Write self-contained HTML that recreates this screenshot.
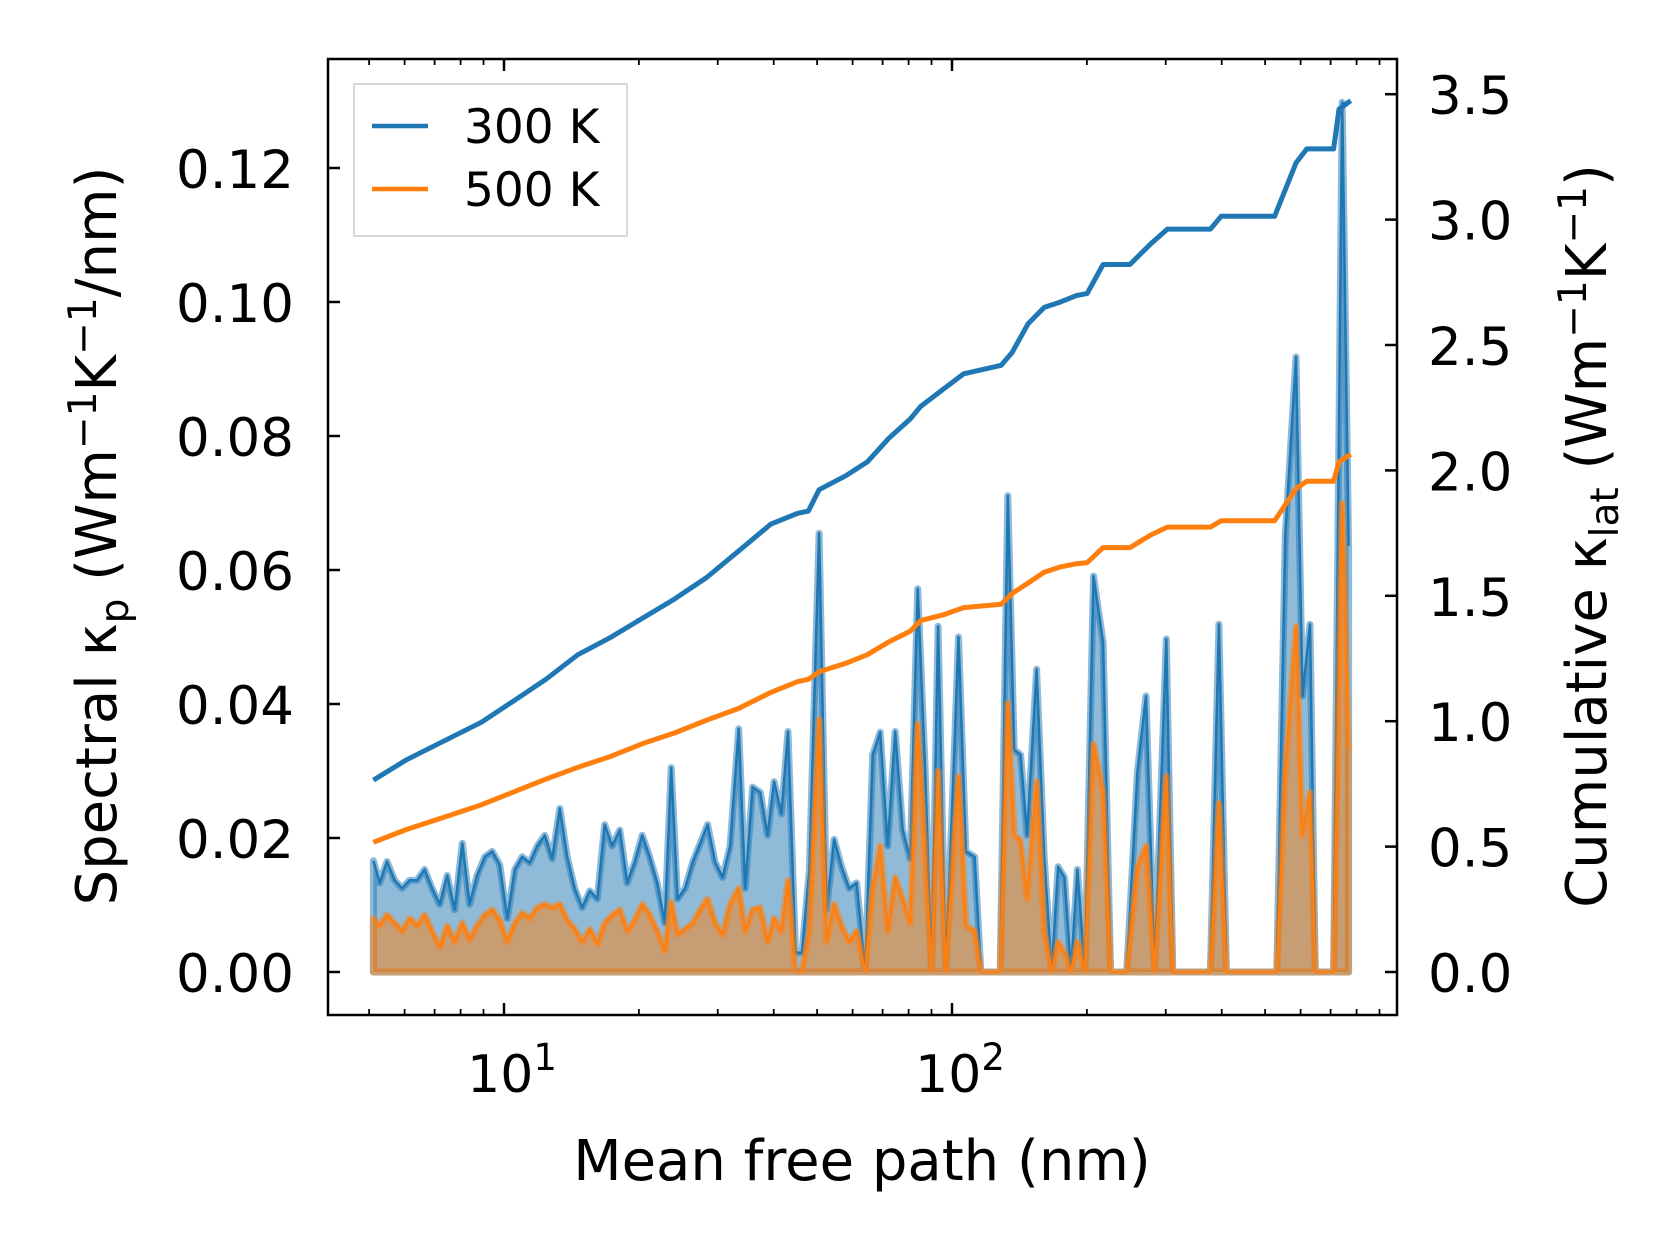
<!DOCTYPE html>
<html><head><meta charset="utf-8">
<style>
html,body{margin:0;padding:0;background:#fff;}
svg{display:block;font-family:"DejaVu Sans","Liberation Sans",sans-serif;}
</style></head>
<body>
<svg id="chart" width="1679" height="1254" viewBox="0 0 1679 1254" xmlns="http://www.w3.org/2000/svg">
<rect x="0" y="0" width="1679" height="1254" fill="#fff"/>
<g id="marks"></g>
<g id="axes"></g>
<g>
  <rect x="354" y="84" width="273" height="152" fill="#fff" fill-opacity="0.8" stroke="#ccc" stroke-width="1.5"/>
  <line x1="372" y1="126" x2="428" y2="126" stroke="#1f77b4" stroke-width="4.5"/>
  <text x="464" y="143" font-size="47">300 K</text>
  <line x1="372" y1="189" x2="428" y2="189" stroke="#ff7f0e" stroke-width="4.5"/>
  <text x="464" y="206" font-size="47">500 K</text>
</g>
<text x="862" y="1180" font-size="56" text-anchor="middle">Mean free path (nm)</text>
<text transform="translate(116,536) rotate(-90)" font-size="56" text-anchor="middle">Spectral κ<tspan font-size="39" dy="12">p</tspan><tspan dy="-12"> (Wm</tspan><tspan font-size="39" dy="-20">−1</tspan><tspan dy="20">K</tspan><tspan font-size="39" dy="-20">−1</tspan><tspan dy="20">/nm)</tspan></text>
<text transform="translate(1606,536) rotate(-90)" font-size="56" text-anchor="middle">Cumulative κ<tspan font-size="39" dy="12">lat</tspan><tspan dy="-12"> (Wm</tspan><tspan font-size="39" dy="-20">−1</tspan><tspan dy="20">K</tspan><tspan font-size="39" dy="-20">−1</tspan><tspan dy="20">)</tspan></text>
</svg>
<script>
// spectral data (mean free path in nm, values in W m^-1 K^-1 / nm ×1e-3)
const mfpSpec = [5.11,5.28,5.48,5.70,5.92,6.16,6.40,6.65,6.91,7.19,7.47,7.76,8.07,8.38,8.71,9.06,9.41,9.78,10.17,10.57,10.98,11.41,11.86,12.33,12.81,13.32,13.84,14.38,14.95,15.54,16.15,16.78,17.44,18.13,18.84,19.58,20.35,21.15,21.98,22.85,23.62,24.41,25.37,26.37,27.41,28.48,29.60,30.76,31.97,33.41,34.54,35.89,37.31,38.77,40.07,41.64,43.05,44.74,46.25,48.06,50.50,52.49,54.55,56.70,58.92,61.24,64.00,66.53,69.15,71.87,74.69,77.62,80.67,83.84,87.14,90.05,93.09,96.74,100.0,103.4,107.4,112.3,116.0,128.1,133.2,137.7,142.3,147.1,154.5,160.6,166.9,172.5,178.3,184.3,190.5,198.0,206.9,217.4,226.0,245.5,259.4,271.0,283.3,300.9,311.0,377.3,394.3,409.8,530.8,554.6,586.0,605.7,629.5,647.1,710.9,742.9,767.8];
const spec300 = [16.6,13.3,16.5,13.7,12.5,13.7,13.7,15.3,12.5,10.1,14.4,9.3,19.2,10.1,14.4,17.2,18.0,16.0,8.0,15.3,17.2,16.3,18.8,20.4,16.9,24.4,17.2,12.5,9.6,12.1,10.9,22.0,18.8,21.2,13.3,16.4,20.4,17.2,13.3,7.3,30.5,10.9,12.5,16.4,19.2,22.0,16.4,14.1,18.8,36.3,12.5,27.6,26.8,20.4,28.4,23.6,35.9,2.9,2.9,15.3,65.5,9.3,19.8,15.7,12.5,13.3,0,32.4,35.8,18.8,35.9,21.2,16.9,57.2,30.0,0,51.6,0,23.6,50.0,18.0,17.2,0,0,71.1,33.2,32.4,20.4,45.2,17.2,0,15.7,14.1,0,15.3,0,59.1,49.2,0,0,30.0,41.2,0,49.7,0,0,51.9,0,0,65.2,91.8,41.2,51.9,0,0,129.8,63.6];
const spec500 = [8.0,6.9,8.5,7.3,6.1,8.0,6.9,8.5,6.1,3.7,6.9,4.5,7.3,4.8,6.9,8.5,9.3,7.7,4.5,7.3,8.8,8.0,9.6,10.1,9.6,10.1,7.7,6.4,4.5,6.4,4.2,7.3,8.5,9.3,6.1,7.7,10.1,8.5,6.1,3.2,10.4,5.6,6.4,7.3,9.3,10.9,7.3,5.6,10.1,12.5,6.1,9.3,9.6,4.5,8.0,6.1,13.7,0,0,6.1,37.7,4.5,10.1,6.9,4.5,6.1,0,12.5,18.8,6.1,14.1,10.9,7.3,37.0,17.2,0,30.0,0,14.1,29.2,6.9,6.1,0,0,40.1,20.4,19.6,10.9,28.4,6.1,0,4.5,2.9,0,4.5,0,34.0,26.8,0,0,15.7,18.8,0,29.2,0,0,25.2,0,0,30.0,51.6,20.4,26.8,0,0,70.0,33.2];
// cumulative data (W m^-1 K^-1)
const mfpCum = [5.11,6.06,7.55,8.91,10.51,12.40,14.62,17.25,20.35,24.01,28.33,33.41,39.42,45.24,47.80,50.50,57.96,64.71,72.26,80.67,85.23,95.17,106.2,128.8,136.2,147.9,160.6,174.4,189.5,200.2,217.4,249.5,278.6,302.6,377.3,398.7,525.0,586.0,619.3,710.9,730.7,776.2];
const cum300 = [0.765,0.846,0.932,0.996,1.081,1.167,1.265,1.333,1.410,1.487,1.573,1.679,1.786,1.829,1.838,1.923,1.979,2.034,2.128,2.205,2.256,2.321,2.385,2.419,2.470,2.585,2.650,2.671,2.697,2.705,2.821,2.821,2.906,2.962,2.962,3.013,3.013,3.226,3.282,3.282,3.440,3.474];
const cum500 = [0.517,0.568,0.624,0.667,0.718,0.769,0.816,0.859,0.910,0.953,1.004,1.051,1.115,1.158,1.167,1.197,1.231,1.265,1.316,1.359,1.402,1.423,1.453,1.466,1.509,1.551,1.594,1.615,1.628,1.632,1.692,1.692,1.744,1.774,1.774,1.799,1.799,1.927,1.957,1.957,2.034,2.064];
const leftTicks = ["0.00","0.02","0.04","0.06","0.08","0.10","0.12"];
const rightTicks = ["0.0","0.5","1.0","1.5","2.0","2.5","3.0","3.5"];
const xMajor = [10,100];

const NS="http://www.w3.org/2000/svg";
const L=328,R=1397,T=59,B=1015;
function xS(m){return 504+448*Math.log10(m/10);}
function yL(v){return 972-v/0.02*134;}
function yR(v){return 972-v/0.5*125.4;}
function mk(tag,attrs,parent){const e=document.createElementNS(NS,tag);for(const k in attrs)e.setAttribute(k,attrs[k]);parent.appendChild(e);return e;}
const marks=document.getElementById('marks'), axes=document.getElementById('axes');

function areaPath(vals){
  let d='M'+xS(mfpSpec[0]).toFixed(1)+','+yL(0).toFixed(1);
  for(let i=0;i<vals.length;i++) d+='L'+xS(mfpSpec[i]).toFixed(1)+','+yL(vals[i]/1000).toFixed(1);
  d+='L'+xS(mfpSpec[mfpSpec.length-1]).toFixed(1)+','+yL(0).toFixed(1)+'Z';
  return d;
}
function linePath(xs,vals,yf,scale){
  let d='';
  for(let i=0;i<vals.length;i++) d+=(i?'L':'M')+xS(xs[i]).toFixed(1)+','+yf(vals[i]*scale).toFixed(1);
  return d;
}
const a3=mk('path',{d:areaPath(spec300),fill:'#1f77b4','fill-opacity':0.5,stroke:'#1f77b4','stroke-opacity':0.5,'stroke-width':7,'stroke-linejoin':'round'},marks);


const l3=mk('path',{d:linePath(mfpSpec,spec300,yL,0.001),fill:'none',stroke:'#1f77b4','stroke-width':2.5,'stroke-linejoin':'round'},marks);


const a5=mk('path',{d:areaPath(spec500),fill:'#ff7f0e','fill-opacity':0.5,stroke:'#ff7f0e','stroke-opacity':0.5,'stroke-width':7,'stroke-linejoin':'round'},marks);


const l5=mk('path',{d:linePath(mfpSpec,spec500,yL,0.001),fill:'none',stroke:'#ff7f0e','stroke-width':2.5,'stroke-linejoin':'round'},marks);


const c3=mk('path',{d:linePath(mfpCum,cum300,yR,1),fill:'none',stroke:'#1f77b4','stroke-width':5,'stroke-linejoin':'round'},marks);


const c5=mk('path',{d:linePath(mfpCum,cum500,yR,1),fill:'none',stroke:'#ff7f0e','stroke-width':5,'stroke-linejoin':'round'},marks);



const fr=mk('rect',{x:L,y:T,width:R-L,height:B-T,fill:'none',stroke:'#000','stroke-width':2.5},axes);


leftTicks.forEach(t=>{
  const y=yL(parseFloat(t));
  mk('line',{x1:L,y1:y,x2:L+12,y2:y,stroke:'#000','stroke-width':2.5},axes);
  const tx=mk('text',{x:294,y:y+20,'font-size':53,'text-anchor':'end'},axes);
  tx.textContent=t;
  
  
});
rightTicks.forEach(t=>{
  const y=yR(parseFloat(t));
  mk('line',{x1:R-12,y1:y,x2:R,y2:y,stroke:'#000','stroke-width':2.5},axes);
  const tx=mk('text',{x:1428,y:y+20,'font-size':53},axes);
  tx.textContent=t;
  
  
});
for(let dec=1;dec<=100;dec*=10){
  for(let k=1;k<=9;k++){
    const m=dec*k; const x=xS(m);
    if(x<L+1||x>R-1) continue;
    const major=xMajor.includes(m);
    const len=major?12:6, w=major?2.5:1.8;
    mk('line',{x1:x,y1:B,x2:x,y2:B-len,stroke:'#000','stroke-width':w},axes);
    mk('line',{x1:x,y1:T,x2:x,y2:T+len,stroke:'#000','stroke-width':w},axes);
  }
}
xMajor.forEach(m=>{
  const x=xS(m);
  const tx=mk('text',{x:x+8,y:1092,'font-size':52,'text-anchor':'middle'},axes);
  
  
  tx.innerHTML='10<tspan font-size="37" dy="-22">'+Math.round(Math.log10(m))+'</tspan>';
});
</script>
</body></html>
